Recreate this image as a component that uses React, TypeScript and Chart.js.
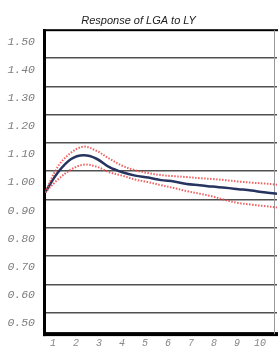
import React, { useEffect, useRef } from "react";
import { Chart, registerables } from "chart.js";

Chart.register(...registerables);

const periods = [1, 1.5, 2, 2.5, 3, 3.5, 4, 4.5, 5, 5.5, 6, 6.5, 7, 7.5, 8, 8.5, 9, 9.5, 10];
const response = [0.964, 1.035, 1.082, 1.096, 1.084, 1.054, 1.036, 1.024, 1.017, 1.008, 1.003, 0.994, 0.99, 0.985, 0.981, 0.976, 0.971, 0.965, 0.96];
const upperBand = [0.964, 1.056, 1.105, 1.127, 1.112, 1.084, 1.059, 1.043, 1.033, 1.026, 1.022, 1.019, 1.015, 1.012, 1.008, 1.003, 0.999, 0.996, 0.992];
const lowerBand = [0.964, 1.01, 1.045, 1.063, 1.056, 1.036, 1.024, 1.01, 1.001, 0.99, 0.98, 0.969, 0.96, 0.95, 0.937, 0.927, 0.921, 0.916, 0.911];
const yTickValues = [0.5, 0.6, 0.7, 0.8, 0.9, 1.0, 1.1, 1.2, 1.3, 1.4, 1.5];
const xTickValues = [1, 2, 3, 4, 5, 6, 7, 8, 9, 10];
const gridValues = [1, 2, 3, 4, 5, 6, 7, 8, 9, 10];
const title = "Response of LGA to LY";

const frame = {
  id: "frame",
  beforeDatasetsDraw(chart: any) {
    const { ctx, chartArea } = chart;
    const l = chartArea.left;
    const t = chartArea.top;
    const b = chartArea.bottom;
    ctx.save();
    ctx.fillStyle = "#000";
    ctx.fillRect(l - 2, t - 1, 278 - (l - 2), 2);
    ctx.fillRect(l - 2, t - 1, 3, b - t + 3);
    ctx.fillRect(l - 2, b - 2, 278 - (l - 2), 4);
    ctx.fillStyle = "#999";
    ctx.fillRect(274, t, 1, b - t);
    ctx.restore();
  },
};

export default function App() {
  const ref = useRef<HTMLCanvasElement>(null);
  useEffect(() => {
    const mk = (arr: number[]) => periods.map((p, i) => ({ x: p, y: arr[i] }));
    const chart = new Chart(ref.current!, {
      type: "line",
      data: {
        datasets: [
          {
            data: mk(upperBand),
            borderColor: "rgba(235,70,70,0.85)",
            borderWidth: 2,
            borderDash: [1.5, 1.5],
            pointRadius: 0,
            tension: 0.35,
            xAxisID: "x",
            yAxisID: "y",
          },
          {
            data: mk(lowerBand),
            borderColor: "rgba(235,70,70,0.85)",
            borderWidth: 2,
            borderDash: [1.5, 1.5],
            pointRadius: 0,
            tension: 0.35,
            xAxisID: "x",
            yAxisID: "y",
          },
          {
            data: mk(response),
            borderColor: "#26345f",
            borderWidth: 2.5,
            pointRadius: 0,
            tension: 0.35,
            xAxisID: "x",
            yAxisID: "y",
          },
        ],
      },
      options: {
        animation: false,
        responsive: false,
        devicePixelRatio: 1,
        layout: { padding: { left: 0, right: 1, top: 0, bottom: 0 } },
        plugins: {
          legend: { display: false },
          tooltip: { enabled: false },
          title: {
            display: true,
            text: title,
            color: "#222",
            font: { family: "Liberation Sans", size: 11, style: "italic", weight: "normal" },
            padding: { top: 14, bottom: 3 },
          },
        },
        scales: {
          x: {
            type: "linear",
            min: 1,
            max: 10,
            display: false,
          },
          xl: {
            type: "linear",
            position: "bottom",
            min: 0.652,
            max: 10.739,
            grid: { display: false, drawTicks: false },
            border: { display: false },
            afterBuildTicks: (s: any) => {
              s.ticks = xTickValues.map((v) => ({ value: v }));
            },
            afterFit: (s: any) => {
              s.height = 16;
            },
            ticks: {
              autoSkip: false,
              maxRotation: 0,
              padding: 3,
              color: "#888",
              font: { family: "Liberation Mono", size: 10, style: "italic" },
              callback: (v: any) => String(v),
            },
          },
          y: {
            type: "linear",
            position: "left",
            min: 0.461,
            max: 1.5407,
            grid: { display: false, drawTicks: false },
            border: { display: false },
            afterBuildTicks: (s: any) => {
              s.ticks = yTickValues.map((v) => ({ value: v }));
            },
            afterFit: (s: any) => {
              s.width = 45;
            },
            ticks: {
              autoSkip: false,
              padding: 10,
              color: "#808080",
              font: { family: "Liberation Mono", size: 11.5, style: "italic" },
              callback: (v: any) => Number(v).toFixed(2),
            },
          },
          yg: {
            type: "linear",
            position: "left",
            min: 0.243,
            max: 10.986,
            border: { display: false },
            grid: { color: "#505050", lineWidth: 1.5, drawTicks: false },
            afterBuildTicks: (s: any) => {
              s.ticks = gridValues.map((v) => ({ value: v }));
            },
            afterFit: (s: any) => {
              s.width = 0;
            },
            ticks: { display: false },
          },
        },
      },
      plugins: [frame],
    });
    return () => chart.destroy();
  }, []);
  return (
    <div style={{ position: "fixed", left: 0, top: 0, width: 278, height: 351, background: "#fff" }}>
      <canvas ref={ref} width={278} height={351} style={{ display: "block" }} />
    </div>
  );
}
